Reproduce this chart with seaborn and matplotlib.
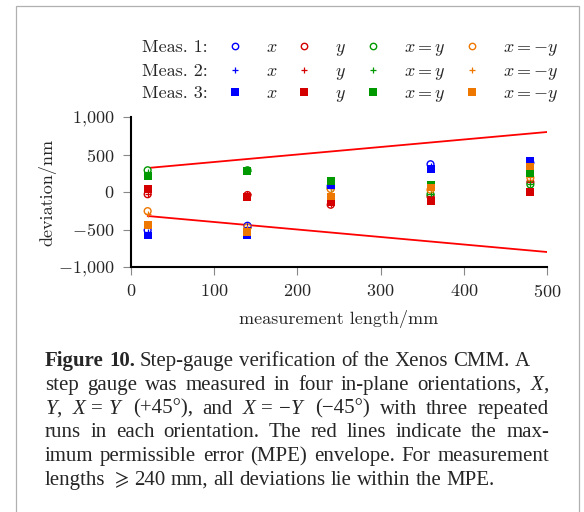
import numpy as np
import pandas as pd
import matplotlib
matplotlib.use('Agg')
import matplotlib.pyplot as plt
import seaborn as sns
from matplotlib.lines import Line2D
from matplotlib.patches import Rectangle
from matplotlib.ticker import FuncFormatter

## step gauge positions (mm)
lengths = [20, 140, 240, 360, 480]

## deviations (nm), three repeated runs per orientation
x_run1 = [-510, -450, 80, 370, 390]
x_run2 = [-530, -460, 70, 350, 380]
x_run3 = [-580, -580, 90, 310, 410]
y_run1 = [-30, -40, -170, -60, 130]
y_run2 = [-20, -30, -160, -50, 140]
y_run3 = [40, -62, -130, -120, 0]
xy_run1 = [290, 290, 50, -30, 100]
xy_run2 = [270, 280, 60, -20, 110]
xy_run3 = [210, 285, 150, 90, 250]
xmy_run1 = [-255, -470, 40, 30, 190]
xmy_run2 = [-290, -480, 50, 40, 200]
xmy_run3 = [-440, -530, -60, 60, 340]

## MPE envelope end points
mpe_len = [20, 500]
mpe_upper = [320, 800]
mpe_lower = [-320, -800]

orientations = ['x', 'y', 'x=y', 'x=-y']
ori_labels = {'x': '$x$', 'y': '$y$', 'x=y': '$x=y$', 'x=-y': '$x=-y$'}
palette = {'x': '#0000ff', 'y': '#d40000', 'x=y': '#009900', 'x=-y': '#ee7700'}

series = {('x', 1): x_run1, ('x', 2): x_run2, ('x', 3): x_run3,
          ('y', 1): y_run1, ('y', 2): y_run2, ('y', 3): y_run3,
          ('x=y', 1): xy_run1, ('x=y', 2): xy_run2, ('x=y', 3): xy_run3,
          ('x=-y', 1): xmy_run1, ('x=-y', 2): xmy_run2, ('x=-y', 3): xmy_run3}

rows = []
for (ori, run), vals in series.items():
    for L, v in zip(lengths, vals):
        rows.append({'length': L, 'dev': v, 'orientation': ori, 'run': run})
df = pd.DataFrame(rows)

sns.set_style('ticks')
plt.rcParams.update({'font.family': 'serif', 'font.serif': ['cmr10'],
                     'mathtext.fontset': 'cm',
                     'mathtext.rm': 'Liberation Serif',
                     'mathtext.it': 'Liberation Serif:italic',
                     'mathtext.bf': 'Liberation Serif:bold',
                     'mathtext.fallback': 'stix',
                     'font.size': 13})

fig = plt.figure(figsize=(5.84, 5.12), dpi=100)
ax = fig.add_axes([131/584, 1-267/512, 416/584, 150/512])

sns.lineplot(x=mpe_len, y=mpe_upper, color='#ff0000', lw=1.3, ax=ax)
sns.lineplot(x=mpe_len, y=mpe_lower, color='#ff0000', lw=1.3, ax=ax)

## plotting order: Meas. 1 (open circles), Meas. 2 (plus), Meas. 3 (squares)
sns.scatterplot(data=df[df['run'] == 1], x='length', y='dev', hue='orientation',
                palette=palette, marker='o', s=24, linewidth=1.0,
                legend=False, ax=ax, zorder=3)
coll = ax.collections[-1]
coll.set_edgecolors(coll.get_facecolors())
coll.set_facecolors('white')
sns.scatterplot(data=df[df['run'] == 2], x='length', y='dev', hue='orientation',
                palette=palette, marker='+', s=20, linewidth=0.9,
                legend=False, ax=ax, zorder=4)
sns.scatterplot(data=df[df['run'] == 3], x='length', y='dev', hue='orientation',
                palette=palette, marker='s', s=33, edgecolor='none', linewidth=0,
                legend=False, ax=ax, zorder=5)

ax.set_xlim(0, 500)
ax.set_ylim(-1000, 1000)
ax.set_xticks([0, 100, 200, 300, 400, 500])
ax.set_yticks([-1000, -500, 0, 500, 1000])


def fmt(v, pos):
    s = f"{int(round(v)):,}".replace(',', '{,}')
    return f"${s}$"


ax.yaxis.set_major_formatter(FuncFormatter(fmt))
ax.xaxis.set_major_formatter(FuncFormatter(fmt))
ax.tick_params(color='#888888', length=5.8, width=0.8, direction='out', pad=6, labelsize=13)
sns.despine(ax=ax)
for sp in ['left', 'bottom']:
    ax.spines[sp].set_linewidth(1.5)
    ax.spines[sp].set_color('black')

ax.set_xlabel('measurement length/mm', fontsize=13)
ax.set_ylabel('deviation/nm', fontsize=13)
ax.xaxis.set_label_coords(0.5, -0.29)
ax.yaxis.set_label_coords(-0.18, 0.5)

## legend: one single-row legend per measurement run
run_markers = {1: dict(marker='o', markersize=4.6, markerfacecolor='white', markeredgewidth=1.0),
               2: dict(marker='+', markersize=5, markeredgewidth=0.9),
               3: dict(marker='s', markersize=5.4, markeredgewidth=0)}
row_y = {1: 49.0, 2: 72.8, 3: 95.0}
for run in [1, 2, 3]:
    handles = [Line2D([], [], linestyle='none')]
    labels = [f'Meas. {run}:']
    for ori in orientations:
        c = palette[ori]
        handles.append(Line2D([], [], linestyle='none', color=c, markeredgecolor=c, **run_markers[run]))
        labels.append(ori_labels[ori])
    fig.legend(handles, labels, ncol=5, loc='center left',
               bbox_to_anchor=(103.7/584, 1-row_y[run]/512),
               bbox_transform=fig.transFigure, frameon=False, borderpad=0, borderaxespad=0,
               handlelength=0.8, handletextpad=1.32, columnspacing=1.09, fontsize=13)

## caption, typeset word by word so that lines can be justified
cap_left, cap_right = 45, 549
cap_size = 15
caption = [
    ([(r"Figure", 'bold'), (r"10.", 'bold'), ("Step-gauge", 'normal'), ("verification", 'normal'),
      ("of", 'normal'), ("the", 'normal'), ("Xenos", 'normal'), ("CMM.", 'normal'), ("A", 'normal')], False),
    ([(w, 'normal') for w in "step gauge was measured in four in-plane orientations,".split()]
     + [(r"$\mathit{X}$,", 'normal')], True),
    ([(r"$\mathit{Y}$,", 'normal'), (r"$\mathit{X}\,=\,\mathit{Y}$", 'normal'), ("(+45°),", 'normal'),
      ("and", 'normal'), (r"$\mathit{X}\,=\,$−$\mathit{Y}$", 'normal'), ("(−45°)", 'normal'),
      ("with", 'normal'), ("three", 'normal'), ("repeated", 'normal')], True),
    ([(w, 'normal') for w in "runs in each orientation. The red lines indicate the max-".split()], True),
    ([(w, 'normal') for w in "imum permissible error (MPE) envelope. For measurement".split()], True),
    ([(w, 'normal') for w in r"lengths $\geqslant$ 240 mm, all deviations lie within the MPE.".split()], False),
]

renderer = fig.canvas.get_renderer()
space = 0.25 * cap_size * 100 / 72
for i, (tokens, justify) in enumerate(caption):
    y = 1 - (366 + 23.8*i)/512
    texts, widths = [], []
    for word, weight in tokens:
        t = fig.text(0, y, word, fontsize=cap_size, family='Liberation Serif', fontweight=weight,
                     va='baseline', ha='left', math_fontfamily='custom')
        texts.append(t)
        widths.append(t.get_window_extent(renderer).width)
    gap = space
    if justify:
        gap = (cap_right - cap_left - sum(widths)) / (len(tokens) - 1)
    xpos = cap_left
    for t, w in zip(texts, widths):
        t.set_x(xpos/584)
        xpos += w + gap

fig.add_artist(Rectangle((16/584, -0.05), (579-16)/584, 1 - 6/512 + 0.05, transform=fig.transFigure,
                         fill=False, edgecolor='#b0b0b0', lw=0.9))

fig.savefig('out.png', dpi=100)
